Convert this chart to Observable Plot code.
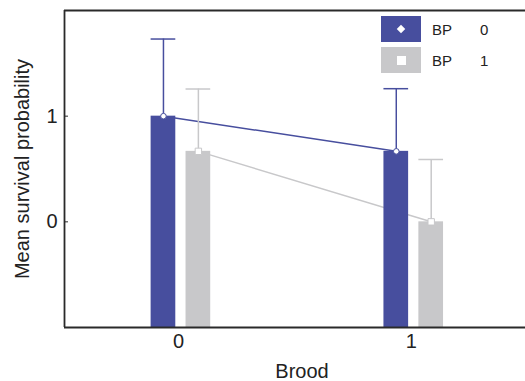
<!DOCTYPE html>
<html>
<head>
<meta charset="utf-8">
<script src="https://cdn.jsdelivr.net/npm/d3@7"></script>
<script src="https://cdn.jsdelivr.net/npm/@observablehq/plot@0.6"></script>
<style>
  html, body { margin: 0; padding: 0; background: #fff; }
  #wrap { position: relative; width: 525px; height: 381px; font-family: "Liberation Sans", Arial, Helvetica, sans-serif; }
  .leg { position: absolute; left: 381px; display: flex; align-items: center; font-size: 15px; color: #222; }
  .leg .box { width: 40px; height: 26px; display: flex; align-items: center; justify-content: center; box-sizing: border-box; }
  .leg .t1 { position: absolute; left: 51px; }
  .leg .t2 { position: absolute; left: 99px; }
</style>
</head>
<body>
<div id="wrap"></div>
<script>
// ---- data ----
const brood = [0, 1];
const bpLevels = ["0", "1"];
const bp0Mean = [1, 0.667];
const bp0Upper = [1.73, 1.26];
const bp1Mean = [0.667, 0];
const bp1Upper = [1.257, 0.59];
const yTicks = [0, 1];
const xTicks = [0, 1];
const xTitle = "Brood";
const yTitle = "Mean survival probability";

// ---- styling constants ----
const blue = "#474e9e";
const grey = "#c8c8ca";
const colors = {"0": blue, "1": grey};
const offsets = {"0": -0.065, "1": 0.085};
const halfW = 0.053;
const yDomain = [-1, 2];
const xDomain = [-0.49, 1.49];

const rows = [];
brood.forEach((b, i) => {
  rows.push({brood: b, bp: "0", mean: bp0Mean[i], upper: bp0Upper[i]});
  rows.push({brood: b, bp: "1", mean: bp1Mean[i], upper: bp1Upper[i]});
});
const px = d => d.brood + offsets[d.bp];

const chart = Plot.plot({
  width: 525,
  height: 381,
  marginLeft: 64,
  marginRight: 0,
  marginTop: 10,
  marginBottom: 54,
  style: {fontFamily: '"Liberation Sans", Arial, Helvetica, sans-serif', fontSize: "20px", color: "#222", background: "transparent"},
  x: {domain: xDomain},
  y: {domain: yDomain},
  marks: [
    Plot.line(rows, {x: px, y: "mean", z: "bp", stroke: d => colors[d.bp], strokeWidth: 1.5}),
    Plot.rectY(rows, {x1: d => px(d) - halfW, x2: d => px(d) + halfW, y1: yDomain[0], y2: "mean", fill: d => colors[d.bp]}),
    Plot.ruleX(rows, {x: px, y1: "mean", y2: "upper", stroke: d => colors[d.bp], strokeWidth: 1.5}),
    Plot.ruleY(rows, {y: "upper", x1: d => px(d) - halfW, x2: d => px(d) + halfW, stroke: d => colors[d.bp], strokeWidth: 1.5}),
    Plot.dot(rows.filter(d => d.bp === "0"), {x: px, y: "mean", r: 2.8, symbol: "circle", fill: "white", stroke: blue, strokeWidth: 1}),
    Plot.dot(rows.filter(d => d.bp === "1"), {x: px, y: "mean", r: 3.6, symbol: "square", fill: "white", stroke: grey, strokeWidth: 1}),
    Plot.ruleX([xDomain[0]], {stroke: "#2a2a2a", strokeWidth: 1.8}),
    Plot.ruleY([yDomain[0]], {stroke: "#2a2a2a", strokeWidth: 1.8}),
    Plot.ruleY([yDomain[1]], {stroke: "#2a2a2a", strokeWidth: 1.8}),
    Plot.axisY({ticks: yTicks, tickSize: -4, tickPadding: 11, tickFormat: d3.format("d"), stroke: "#2a2a2a",
      label: yTitle, labelAnchor: "center", labelArrow: false, labelOffset: 50}),
    Plot.axisX({ticks: xTicks, tickSize: 0, tickPadding: 6, tickFormat: d3.format("d"),
      label: xTitle, labelAnchor: "center", labelArrow: false, labelOffset: 50})
  ]
});
const wrap = document.getElementById("wrap");
wrap.appendChild(chart);
// font sizes: all chart text 20px; nudge x title right as in reference
chart.querySelectorAll("text").forEach(t => {
  const s = t.textContent.trim();
  t.style.fontSize = "20px";
  if (s === xTitle) {
    t.setAttribute("transform", (t.getAttribute("transform") || "") + " translate(7,0)");
  }
});

// legend overlay
const legTops = [16, 47];
bpLevels.forEach((lv, i) => {
  const row = document.createElement("div");
  row.className = "leg";
  row.style.top = legTops[i] + "px";
  const box = document.createElement("div");
  box.className = "box";
  box.style.background = colors[lv];
  const mk = document.createElement("div");
  if (lv === "0") {
    mk.style.cssText = "width:6px;height:6px;background:#fff;transform:rotate(45deg);";
  } else {
    mk.style.cssText = "width:9px;height:9px;background:#fff;";
  }
  box.appendChild(mk);
  row.appendChild(box);
  const t1 = document.createElement("span"); t1.className = "t1"; t1.textContent = "BP";
  const t2 = document.createElement("span"); t2.className = "t2"; t2.textContent = lv;
  row.appendChild(t1); row.appendChild(t2);
  wrap.appendChild(row);
});
</script>
</body>
</html>
